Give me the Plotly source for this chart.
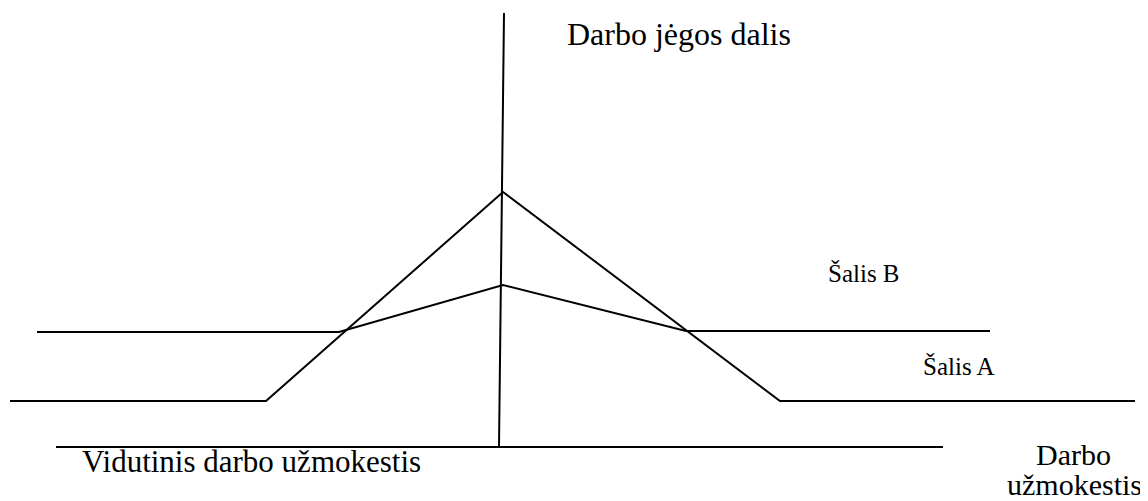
"""Labour share vs wage diagram for two countries."""
import plotly.graph_objects as go

# kink points of each country's curve (diagram units, y grows downward)
country_a_x = [10, 266, 503, 780, 1135]
country_a_y = [401, 401, 192, 401, 401]
country_b_x = [37, 339, 503, 686, 990]
country_b_y = [332, 332, 285, 331, 331]

# axes of the diagram
vertical_axis_x = [504, 499]
vertical_axis_y = [13, 447]
wage_axis_x = [56, 943]
wage_axis_y = [447, 447]

labels = ["Darbo jėgos dalis", "Šalis B", "Šalis A",
          "Vidutinis darbo užmokestis", "Darbo", "užmokestis"]
label_x = [565, 826, 921, 80, 1073, 1074]
label_y = [34, 272.5, 365.5, 461.5, 454, 484.5]
label_size = [32, 25, 25, 31, 30, 30]
label_anchor = ["left", "left", "left", "left", "center", "center"]

SERIF = "Liberation Serif, Times New Roman, serif"

fig = go.Figure()
line = dict(color="black", width=2)
for xs, ys in [(country_a_x, country_a_y), (country_b_x, country_b_y),
               (vertical_axis_x, vertical_axis_y), (wage_axis_x, wage_axis_y)]:
    fig.add_trace(go.Scatter(x=xs, y=ys, mode="lines", line=line,
                             hoverinfo="skip", showlegend=False))

for txt, x, y, s, a in zip(labels, label_x, label_y, label_size, label_anchor):
    fig.add_annotation(x=x, y=y, text=txt, showarrow=False, xanchor=a,
                       yanchor="middle", align="center",
                       font=dict(family=SERIF, size=s, color="black"))

# the page body adds an 8px margin, so shift the ranges to compensate
fig.update_layout(
    width=1148, height=501,
    margin=dict(l=0, r=0, t=0, b=0),
    paper_bgcolor="white", plot_bgcolor="white",
    font=dict(family=SERIF),
    xaxis=dict(range=[8, 1156], visible=False),
    yaxis=dict(range=[509, 8], visible=False),
)
fig.write_html("out.html")
